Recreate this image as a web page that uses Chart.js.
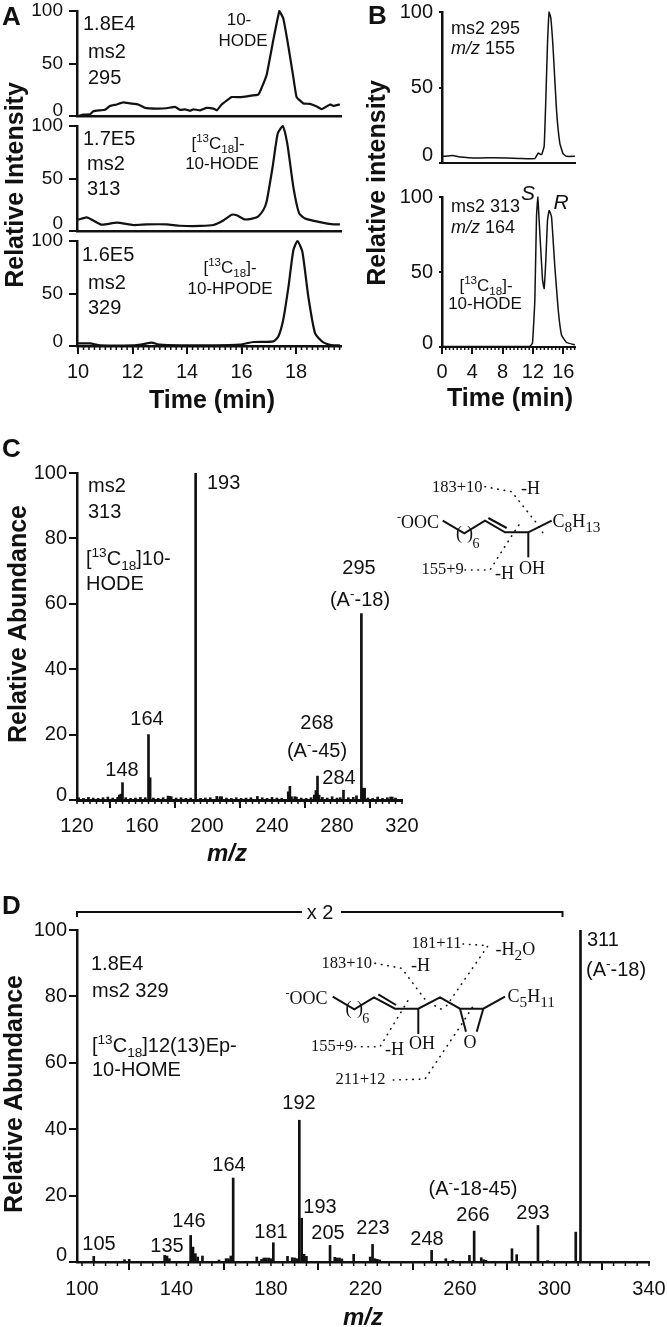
<!DOCTYPE html>
<html>
<head>
<meta charset="utf-8">
<title>Spectra</title>
<script src="https://cdn.jsdelivr.net/npm/chart.js@4"></script>
<style>
html, body { margin: 0; padding: 0; background: #fff; }
#page { position: relative; width: 667px; height: 1327px; overflow: hidden; }
#page canvas { position: absolute; }
#page svg { position: absolute; left: 0; top: 0; }
.note { position: absolute; white-space: nowrap; line-height: 1; color: #111; font-family: "Liberation Sans", sans-serif; }
.note sup, .note sub { font-size: 68%; line-height: 0; }
.note.serif sub { font-size: 85%; }
</style>
</head>
<body>
<div id="page"></div>
<script>
// panel A, top trace
const a1Time = [10, 10.2, 10.44, 10.56, 10.81, 10.99, 11.17, 11.42, 11.66, 11.91, 12.21, 12.46, 12.89, 13.25, 13.56, 13.74, 13.93, 14.11, 14.23, 14.48, 14.72, 14.97, 15.09, 15.27, 15.64, 15.94, 16.25, 16.62, 16.74, 16.92, 17.17, 17.39, 17.53, 17.72, 17.9, 18.02, 18.27, 18.51, 18.76, 18.94, 19.25, 19.37, 19.61];
const a1Intensity = [0, 1.3, 1.6, 4.5, 5.4, 6, 9.6, 11, 13, 12, 11, 7.7, 7, 7.4, 8.7, 5.8, 6.4, 5, 6.4, 5.4, 7.7, 7, 5.4, 11, 18, 18, 19, 20.5, 27, 39, 73, 100, 93, 66, 37, 18, 12, 11.5, 9, 6.5, 11, 9.6, 11];
// panel A, middle trace
const a2Time = [10, 10.32, 10.56, 10.87, 11.42, 12.03, 12.52, 13.25, 13.74, 14.48, 14.97, 15.33, 15.64, 15.82, 16.13, 16.56, 16.8, 16.92, 17.14, 17.33, 17.51, 17.68, 17.9, 18.11, 18.33, 18.88, 19.37, 19.61];
const a2Intensity = [10.8, 13, 10, 6, 8, 5.7, 6.3, 6.3, 5, 4.8, 5.7, 10, 15.5, 15, 11, 13, 20, 28, 61, 93, 100, 83, 42, 17, 12, 8.5, 6.3, 6.3];
// panel A, bottom trace
const a3Time = [10, 10.44, 10.81, 12.03, 12.4, 12.7, 13, 13.74, 14.72, 15.94, 16.43, 17.17, 17.35, 17.53, 17.72, 17.9, 18.05, 18.23, 18.45, 18.7, 19, 19.37, 19.61];
const a3Intensity = [2.5, 2.5, 0.6, 0.6, 1.9, 3.2, 1.3, 0.6, 0.6, 1.3, 3.8, 4.4, 9, 25, 56, 91, 100, 90, 47, 12, 3.5, 0.6, 0.6];
// panel B traces
const b1Time = [0, 0.8, 1.45, 2.33, 4.98, 6.74, 10.26, 12.25, 12.69, 13.13, 13.48, 13.7, 13.92, 14.14, 14.36, 14.67, 15.11, 15.55, 15.99, 16.43, 17.53];
const b1Intensity = [4.4, 4.6, 5, 4, 3.3, 3.5, 3, 2.9, 6.6, 5.5, 11, 42, 79, 100, 96, 75, 35, 13, 6, 4.4, 4.4];
const b2Time = [0, 5, 11.59, 11.94, 12.25, 12.47, 12.64, 12.91, 13.26, 13.48, 13.7, 13.92, 14.14, 14.45, 14.89, 15.33, 15.77, 16.43, 17.53];
const b2Intensity = [0.4, 0.4, 0.4, 2.6, 31, 87, 100, 76, 45, 39, 58, 84.5, 91, 87, 53.5, 25, 8, 3, 1.5];
// panel C spectrum
const cPeakMz = [146, 147, 148, 164, 165, 193, 250, 251, 252, 266, 267, 268, 269, 277, 284, 295, 296, 297];
const cPeakAbundance = [1.5, 1.8, 5.3, 20, 6.8, 100, 2.5, 4.2, 1, 1.5, 2.9, 7.3, 1.5, 1, 3, 57, 3.6, 3.6];
const cNoiseMz = [121, 124, 127, 130, 133, 136, 139, 142, 145, 150, 153, 156, 159, 162, 167, 170, 173, 176, 177, 178, 181, 184, 187, 190, 196, 199, 202, 206, 208, 209, 212, 215, 218, 221, 224, 227, 231, 234, 237, 240, 243, 246, 254, 255, 258, 261, 264, 271, 274, 280, 282, 287, 290, 292, 299, 302, 305, 308, 311, 313, 314, 316];
const cNoiseAbundance = [0.7, 0.5, 0.8, 0.6, 0.5, 0.7, 0.9, 0.6, 0.8, 0.7, 0.5, 0.6, 0.8, 0.7, 0.6, 0.5, 0.7, 1.2, 1.1, 1, 0.6, 0.7, 0.5, 0.6, 0.5, 0.6, 0.7, 1.1, 1, 1, 0.6, 0.5, 0.7, 0.5, 0.6, 0.7, 1.1, 0.7, 0.5, 0.8, 0.6, 0.5, 1, 0.9, 0.6, 0.5, 0.7, 0.8, 0.6, 0.6, 0.7, 0.7, 0.8, 1.3, 0.6, 0.5, 0.9, 0.5, 0.7, 0.9, 0.9, 0.6];
// panel D spectrum
const dPeakMz = [105, 118, 120, 135, 136, 137, 146, 147, 148, 149, 151, 158, 161, 162, 163, 164, 174, 176, 177, 178, 179, 180, 181, 187, 189, 190, 191, 192, 193, 194, 195, 205, 207, 208, 209, 210, 215, 222, 223, 224, 225, 226, 248, 254, 257, 264, 266, 269, 270, 271, 282, 284, 293, 297, 309, 311];
const dPeakAbundance = [1.7, 0.7, 0.8, 2, 1.8, 1, 8, 4.5, 2.5, 1.5, 1.8, 0.6, 1, 1, 1.8, 25.3, 1.5, 0.8, 1.2, 1.2, 1.2, 1, 5.8, 1.7, 1.3, 1.2, 1, 42.7, 13.2, 2.3, 1.7, 5, 1.4, 1.2, 1.2, 0.9, 2.3, 1.5, 5.3, 1, 0.8, 0.6, 3.5, 1, 0.5, 2, 9.3, 1.3, 0.7, 0.5, 4, 2.2, 11, 0.4, 9, 100];
// tick labels
const aTimeTicks = [10, 12, 14, 16, 18];
const bTimeTicks = [0, 4, 8, 12, 16];
const cMzTicks = [120, 160, 200, 240, 280, 320];
const dMzTicks = [100, 140, 180, 220, 260, 300, 340];
const traceTicks = [0, 50, 100];
const spectrumTicks = [0, 20, 40, 60, 80, 100];

const page = document.getElementById("page");
const FONT = "Liberation Sans";
const INK = "#111";

function zip(xs, ys) {
    return xs.map((x, i) => ({ x: x, y: ys[i] }));
}

// small ticks between the labelled ones, same axis as the chart
function minorTicksPlugin(step, length) {
    return {
        id: "minorTicks",
        afterDraw(chart) {
            if (!step) return;
            const s = chart.scales.x;
            const ctx = chart.ctx;
            ctx.save();
            ctx.strokeStyle = INK;
            ctx.lineWidth = 1.5;
            ctx.beginPath();
            for (let i = Math.ceil(s.min / step); i * step <= s.max; i++) {
                const px = s.getPixelForValue(i * step);
                ctx.moveTo(px, s.top);
                ctx.lineTo(px, s.top + length);
            }
            ctx.stroke();
            ctx.restore();
        }
    };
}

// the figure has its 0 label sitting above the tick
function raiseZeroPlugin(shift) {
    return {
        id: "raiseZero",
        afterLayout(chart) {
            chart.scales.y.getLabelItems().forEach(item => {
                if (item.label === "0") item.options.translation[1] -= shift;
            });
        }
    };
}

function makePanel(cfg) {
    const yW = 72;
    const xH = cfg.xTicks ? 60 : 4;
    const padT = 12;
    const padR = 20;
    const w = yW + cfg.right - cfg.left + padR;
    const h = padT + cfg.bottom - cfg.top + xH;
    const axisWidth = cfg.axisWidth || 2.5;

    const canvas = document.createElement("canvas");
    canvas.width = w;
    canvas.height = h;
    canvas.style.left = (cfg.left - yW) + "px";
    canvas.style.top = (cfg.top - padT) + "px";
    canvas.style.width = w + "px";
    canvas.style.height = h + "px";
    page.appendChild(canvas);

    new Chart(canvas, {
        type: cfg.type,
        data: { datasets: cfg.datasets },
        plugins: [minorTicksPlugin(cfg.minorStep, cfg.minorLen || 4), raiseZeroPlugin(cfg.zeroShift || 5)],
        options: {
            responsive: false,
            animation: false,
            devicePixelRatio: 1,
            layout: { padding: { top: padT, right: padR, left: 0, bottom: 0 } },
            plugins: { legend: { display: false }, tooltip: { enabled: false } },
            scales: {
                x: {
                    type: "linear",
                    offset: false,
                    min: cfg.xMin,
                    max: cfg.xMax,
                    grid: { drawOnChartArea: false, drawTicks: !!cfg.xTicks, tickLength: cfg.tickLen || 8, tickColor: INK, lineWidth: 2 },
                    border: { display: true, color: INK, width: axisWidth },
                    ticks: {
                        display: !!cfg.xTicks,
                        autoSkip: false,
                        maxRotation: 0,
                        padding: cfg.xLabelPad || 6,
                        color: INK,
                        font: { family: FONT, size: 20 },
                        callback: v => String(v)
                    },
                    afterBuildTicks: s => { s.ticks = (cfg.xTicks || []).map(v => ({ value: v })); },
                    afterFit: s => { s.height = xH; s.paddingLeft = 0; s.paddingRight = 0; }
                },
                y: {
                    min: 0,
                    max: 100,
                    grid: { drawOnChartArea: false, tickLength: cfg.yTickLen || 8, tickColor: INK, lineWidth: 2 },
                    border: { display: true, color: INK, width: 2.5 },
                    ticks: {
                        padding: cfg.yLabelPad || 2,
                        color: INK,
                        font: { family: FONT, size: cfg.yFont || 20 },
                        callback: v => String(v)
                    },
                    afterBuildTicks: s => { s.ticks = cfg.yTicks.map(v => ({ value: v })); },
                    afterFit: s => { s.width = yW; s.paddingTop = 0; s.paddingBottom = 0; }
                }
            }
        }
    });
}

function trace(xs, ys, width, tension) {
    return { data: zip(xs, ys), borderColor: INK, borderWidth: width, pointRadius: 0, tension: tension, fill: false, clip: false };
}

function bars(xs, ys, thick) {
    return { data: zip(xs, ys), backgroundColor: INK, barThickness: thick, grouped: false };
}

function note(html, x, y, o) {
    o = o || {};
    const el = document.createElement("div");
    el.className = "note" + (o.serif ? " serif" : "");
    el.innerHTML = html;
    el.style.left = x + "px";
    el.style.top = y + "px";
    el.style.fontSize = (o.size || 20) + "px";
    if (o.bold) el.style.fontWeight = "bold";
    if (o.italic) el.style.fontStyle = "italic";
    if (o.serif) el.style.fontFamily = '"Liberation Serif", serif';
    const tx = o.center ? "-50%" : "0";
    el.style.transform = "translate(" + tx + ", -50%)" + (o.rot ? " rotate(" + o.rot + "deg)" : "");
    page.appendChild(el);
}

// panel A
const A_MAX = 19.65;
makePanel({ type: "line", left: 77, right: 341, top: 11, bottom: 116, xMin: 9.96, xMax: A_MAX, yTicks: traceTicks, yLabelPad: 6, yFont: 19, datasets: [trace(a1Time, a1Intensity, 2.2, 0.1)] });
makePanel({ type: "line", left: 77, right: 341, top: 126, bottom: 231, xMin: 9.96, xMax: A_MAX, yTicks: traceTicks, yLabelPad: 6, yFont: 19, zeroShift: 7, datasets: [trace(a2Time, a2Intensity, 2.2, 0.2)] });
makePanel({ type: "line", left: 77, right: 341, top: 241, bottom: 346, xMin: 9.96, xMax: A_MAX, yTicks: traceTicks, xTicks: aTimeTicks, minorStep: 0.2, yLabelPad: 6, yFont: 19, zeroShift: 4, datasets: [trace(a3Time, a3Intensity, 2.2, 0.2)] });

// panel B
makePanel({ type: "line", left: 442, right: 575, top: 12, bottom: 163, xMin: 0, xMax: 17.55, yTicks: traceTicks, yTickLen: 3, yLabelPad: 6, zeroShift: 8, axisWidth: 2, datasets: [trace(b1Time, b1Intensity, 1.5, 0.1)] });
makePanel({ type: "line", left: 442, right: 575, top: 197, bottom: 347, xMin: 0, xMax: 17.55, yTicks: traceTicks, xTicks: bTimeTicks, minorStep: 0.5, minorLen: 3, tickLen: 7, yTickLen: 3, yLabelPad: 6, zeroShift: 4, axisWidth: 2, datasets: [trace(b2Time, b2Intensity, 1.5, 0.1)] });

// panel C
makePanel({ type: "bar", left: 77, right: 402, top: 473, bottom: 800, xMin: 120, xMax: 320, yTicks: spectrumTicks, xTicks: cMzTicks, minorStep: 4, axisWidth: 3, datasets: [bars(cPeakMz, cPeakAbundance, 2), bars(cNoiseMz, cNoiseAbundance, 2)] });

// panel D
makePanel({ type: "bar", left: 77, right: 649, top: 930, bottom: 1262, xMin: 97.9, xMax: 340, yTicks: spectrumTicks, xTicks: dMzTicks, minorStep: 5, zeroShift: 7, xLabelPad: 7, datasets: [bars(dPeakMz, dPeakAbundance, 2)] });

// panel letters and axis titles
note("A", 2, 16, { size: 26, bold: true });
note("B", 368, 15, { size: 26, bold: true });
note("C", 2, 448, { size: 26, bold: true });
note("D", 2, 905, { size: 26, bold: true });
note("Relative Intensity", 14, 185, { size: 25, bold: true, center: true, rot: -90 });
note("Relative intensity", 376, 183, { size: 25, bold: true, center: true, rot: -90 });
note("Relative Abundance", 17, 624, { size: 25, bold: true, center: true, rot: -90 });
note("Relative Abundance", 13, 1094, { size: 25, bold: true, center: true, rot: -90 });
note("Time (min)", 212, 399, { size: 25, bold: true, center: true });
note("Time (min)", 510, 397, { size: 25, bold: true, center: true });
note("m/z", 227, 853, { size: 24, bold: true, italic: true, center: true });
note("m/z", 363, 1317, { size: 24, bold: true, italic: true, center: true });

// panel A labels
note("1.8E4", 83, 23);
note("ms2", 88, 51);
note("295", 88, 77);
note("10-", 239, 19, { size: 17, center: true });
note("HODE", 243, 40, { size: 17, center: true });
note("1.7E5", 83, 138);
note("ms2", 87, 163);
note("313", 87, 188);
note("[<sup>13</sup>C<sub>18</sub>]-", 218, 143, { size: 17, center: true });
note("10-HODE", 222, 163, { size: 17, center: true });
note("1.6E5", 82, 254);
note("ms2", 88, 282);
note("329", 88, 307);
note("[<sup>13</sup>C<sub>18</sub>]-", 230, 267, { size: 17, center: true });
note("10-HPODE", 230, 288, { size: 17, center: true });

// panel B labels
note("ms2 295", 451, 28, { size: 18 });
note("<i>m/z</i> 155", 451, 48, { size: 18 });
note("ms2 313", 451, 206, { size: 18 });
note("<i>m/z</i> 164", 451, 227, { size: 18 });
note("[<sup>13</sup>C<sub>18</sub>]-", 486, 285, { size: 17, center: true });
note("10-HODE", 485, 303, { size: 17, center: true });
note("S", 528, 192, { size: 21, italic: true, center: true });
note("R", 561, 201, { size: 21, italic: true, center: true });

// panel C labels
note("ms2", 88, 485);
note("313", 88, 511);
note("[<sup>13</sup>C<sub>18</sub>]10-", 86, 558);
note("HODE", 86, 583);
note("193", 207, 482);
note("295", 359, 567, { center: true });
note("(A<sup>-</sup>-18)", 360, 599, { center: true });
note("164", 147, 718, { center: true });
note("148", 122, 769, { center: true });
note("268", 317, 722, { center: true });
note("(A<sup>-</sup>-45)", 317, 750, { center: true });
note("284", 339, 777, { center: true });

// panel D labels
note("x 2", 320, 912, { center: true });
note("1.8E4", 91, 963);
note("ms2 329", 92, 990);
note("[<sup>13</sup>C<sub>18</sub>]12(13)Ep-", 92, 1045);
note("10-HOME", 92, 1069);
note("105", 99, 1243, { center: true });
note("135", 167, 1245, { center: true });
note("146", 189, 1220, { center: true });
note("164", 229, 1164, { center: true });
note("181", 271, 1231, { center: true });
note("192", 299, 1102, { center: true });
note("193", 320, 1206, { center: true });
note("205", 328, 1232, { center: true });
note("223", 373, 1227, { center: true });
note("248", 427, 1238, { center: true });
note("266", 473, 1214, { center: true });
note("293", 533, 1212, { center: true });
note("(A<sup>-</sup>-18-45)", 473, 1188, { center: true });
note("311", 587, 939);
note("(A<sup>-</sup>-18)", 586, 969);

// line art for the structures and the x2 bracket
const svg = document.createElementNS("http://www.w3.org/2000/svg", "svg");
svg.setAttribute("width", 667);
svg.setAttribute("height", 1327);
page.appendChild(svg);

function stroke(points, width, dash) {
    const line = document.createElementNS("http://www.w3.org/2000/svg", "polyline");
    line.setAttribute("points", points.map(p => p.join(",")).join(" "));
    line.setAttribute("fill", "none");
    line.setAttribute("stroke", INK);
    line.setAttribute("stroke-width", width);
    if (dash) {
        line.setAttribute("stroke-dasharray", dash);
        line.setAttribute("stroke-linecap", "round");
    }
    svg.appendChild(line);
}
function bond(points) { stroke(points, 2); }
function dots(points) { stroke(points, 1.6, "0.5 6"); }

stroke([[77, 917], [77, 912], [302, 912]], 2);
stroke([[341, 912], [562.5, 912], [562.5, 917]], 2);

const S = { size: 16.5, serif: true };
const T = { size: 18, serif: true };

// structure in panel C
bond([[442.7, 520.7], [464.3, 533.3], [485, 520.7], [505, 532.3], [528.3, 532.3], [551.7, 520.7]]);
bond([[488.3, 518], [506.7, 528]]);
bond([[528.3, 532.3], [528.3, 557.3]]);
dots([[485, 486.7], [511.7, 491.7], [536.7, 523.3], [543, 533]]);
dots([[465, 570], [490, 570], [513.3, 533.3], [520, 523.3]]);
note("<sup>-</sup>OOC", 397, 522, T);
note("(", 456, 533, T);
note(")", 467, 533, T);
note("6", 476, 544, { size: 14, serif: true, center: true });
note("C<sub>8</sub>H<sub>13</sub>", 552.5, 521, T);
note("OH", 519, 568, T);
note("183+10", 432, 487, S);
note("-H", 521, 488, T);
note("155+9", 421.5, 569, S);
note("-H", 495, 573, T);

// structure in panel D
bond([[332.7, 996.7], [354.3, 1009.3], [374, 997.3], [395, 1008.7], [418.3, 1008.7], [440, 997.3], [460, 1008.7], [483.3, 1008.7], [505, 996.7]]);
bond([[378.3, 994.3], [396, 1005]]);
bond([[418.3, 1008.7], [418.3, 1034]]);
bond([[460, 1008.7], [466, 1031.7]]);
bond([[483.3, 1008.7], [476.7, 1031.7]]);
dots([[463, 944], [488, 945.7], [451.7, 998.3], [445, 1008]]);
dots([[375, 963.3], [401.7, 968.3], [426.7, 1001.7], [443, 1010]]);
dots([[355, 1046.7], [380, 1046.7], [408.3, 1000]]);
dots([[393.3, 1080], [425, 1079], [460, 1026.7], [475, 1003.3]]);
note("<sup>-</sup>OOC", 285.5, 998, T);
note("(", 345.5, 1008, T);
note(")", 357, 1008, T);
note("6", 365.7, 1019, { size: 14, serif: true, center: true });
note("C<sub>5</sub>H<sub>11</sub>", 507.5, 996, T);
note("OH", 409, 1043, T);
note("O", 463.5, 1042, T);
note("181+11", 411.5, 943, S);
note("-H<sub>2</sub>O", 495.5, 949, T);
note("183+10", 321.5, 963, S);
note("-H", 411, 965, T);
note("155+9", 311, 1046, S);
note("-H", 385, 1049, T);
note("211+12", 335.5, 1079, S);
</script>
</body>
</html>
